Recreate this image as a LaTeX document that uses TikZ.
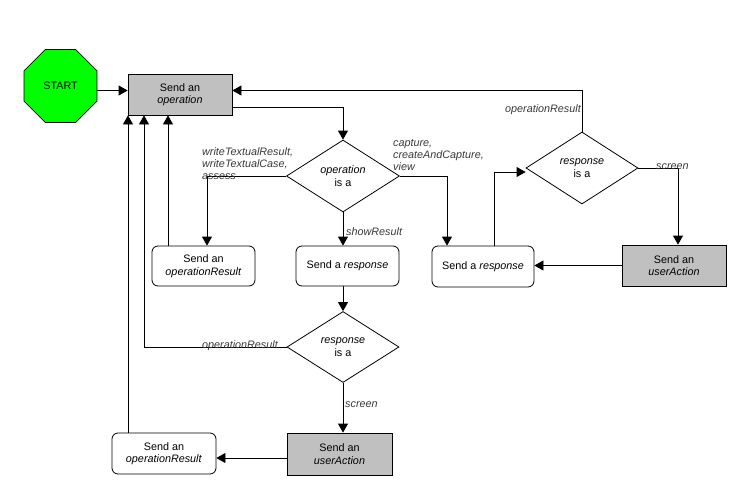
\documentclass[tikz,border=0pt]{standalone}
\usepackage{fontspec}
\setmainfont{Liberation Sans}
\usetikzlibrary{shapes.geometric,arrows.meta}
\definecolor{startgreen}{HTML}{00FF00}
\definecolor{boxgray}{HTML}{C0C0C0}
\definecolor{labgray}{HTML}{383838}
\tikzset{
  base/.style={draw=black, line width=0.8pt, font=\fontsize{10.8}{12.5}\selectfont, align=center, inner sep=0pt},
  gbox/.style={base, rectangle, fill=boxgray, minimum width=104pt, minimum height=41pt},
  rbox/.style={base, rectangle, rounded corners=6pt, fill=white, minimum width=103pt, minimum height=40pt},
  dec/.style={base, diamond, fill=white, minimum width=113pt, minimum height=72pt},
  lab/.style={font=\fontsize{10.8}{12}\selectfont\itshape, text=labgray, align=left, inner sep=0pt},
  arr/.style={draw=black, line width=0.8pt, -{Triangle[length=9pt,width=10pt]}},
}
\begin{document}
\begin{tikzpicture}[x=1pt,y=-1pt]
\useasboundingbox (0,0) rectangle (734,498);
% nodes
\node[base, regular polygon, regular polygon sides=8, fill=startgreen, minimum size=79pt] (start) at (60.5,86) {START};
\node[gbox] (op) at (180,94.5) {Send an\\\textit{operation}};
\node[dec] (d1) at (343,176) {\textit{operation}\\is a};
\node[rbox] (orr1) at (203.5,266) {Send an\\\textit{operationResult}};
\node[rbox] (resp1) at (347.5,266) {Send a \textit{response}};
\node[rbox, minimum width=102pt, minimum height=41pt] (resp2) at (483,266.5) {Send a \textit{response}};
\node[dec, minimum width=112pt] (d2) at (582,168) {\textit{response}\\is a};
\node[gbox] (ua1) at (674,265.5) {Send an\\\textit{userAction}};
\node[dec, minimum width=112pt, minimum height=71pt] (d3) at (343,347) {\textit{response}\\is a};
\node[gbox, minimum width=105pt, minimum height=42pt] (ua2) at (339.5,454) {Send an\\\textit{userAction}};
\node[rbox, minimum width=104pt, minimum height=41pt] (orr2) at (164,453.5) {Send an\\\textit{operationResult}};
% connectors
\path ([yshift=-4.5pt]start.east) coordinate (s1);
\draw[arr] (s1) -- (s1 -| op.west);
\draw[arr] ([yshift=-12.5pt]op.east) -| (d1.north);
\draw[arr] (d1.west) -| ([xshift=3.5pt]orr1.north);
\draw[arr] (d1.south) -- (d1.south |- resp1.north);
\draw[arr] (d1.east) -| ([xshift=-36pt]resp2.north);
\draw[arr] (d1.south |- resp1.south) -- (d3.north);
\draw[arr] (d3.west) -| ([xshift=-36pt]op.south);
\draw[arr] (d3.south) -- (d3.south |- ua2.north);
\draw[arr] ([yshift=-4pt]ua2.west) -- ([yshift=-4pt]ua2.west -| orr2.east);
\draw[arr] ([xshift=-36pt]orr2.north) -- ([xshift=-52pt]op.south);
\draw[arr] ([xshift=-35.5pt]orr1.north) -- ([xshift=-12pt]op.south);
\draw[arr] ([xshift=11pt]resp2.north) |- ([yshift=-4pt]d2.west);
\draw[arr] (d2.north) |- (s1 -| op.east);
\draw[arr] (d2.east) -| ([xshift=4pt]ua1.north);
\draw[arr] (ua1.west) -- (ua1.west -| resp2.east);
% labels
\node[lab, anchor=west] (l1) at (202,164) {writeTextualResult,\\writeTextualCase,\\assess};
\node[lab, anchor=west] (l2) at (393,155) {capture,\\createAndCapture,\\view};
\node[lab, anchor=west] (l3) at (346,232) {showResult};
\node[lab, anchor=east] (l4) at (581,110) {operationResult};
\node[lab, anchor=west] (l5) at (656,167) {screen};
\node[lab, anchor=east] (l6) at (278,346) {operationResult};
\node[lab, anchor=west] (l7) at (345,405) {screen};
\end{tikzpicture}
\end{document}
